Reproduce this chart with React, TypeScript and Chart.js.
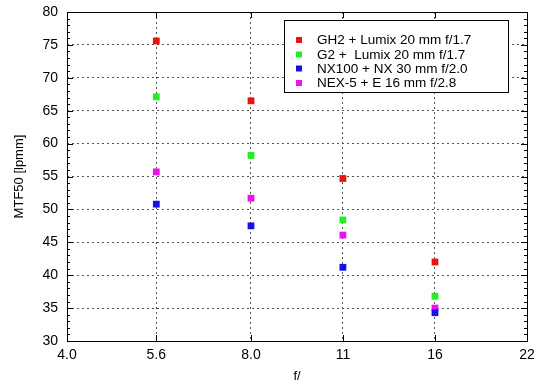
import React, { useEffect, useRef } from "react";
import { Chart, registerables } from "chart.js";

Chart.register(...registerables);

const fStops = [5.6, 8, 11.31, 16];
const tickValues = [4, 5.6, 8, 11.31, 16, 22.63];
const tickLabels = ["4.0", "5.6", "8.0", "11", "16", "22"];
const seriesNames = [
  "GH2 + Lumix 20 mm f/1.7",
  "G2 +  Lumix 20 mm f/1.7",
  "NX100 + NX 30 mm f/2.0",
  "NEX-5 + E 16 mm f/2.8",
];
const gh2 = [75.6, 66.5, 54.7, 42.0];
const g2 = [67.1, 58.2, 48.4, 36.8];
const nx100 = [50.8, 47.5, 41.2, 34.3];
const nex5 = [55.7, 51.7, 46.1, 35.0];
const colors = ["#ee1111", "#22ee22", "#1111ee", "#ee11ee"];

const FONT = "'Liberation Sans', Arial, sans-serif";

const framePlugin = {
  id: "frame",
  afterDraw(chart: any) {
    const { ctx, chartArea: a, scales } = chart;
    const ys = scales.y;
    const xs = scales.x;
    ctx.save();
    ctx.strokeStyle = "#000";
    ctx.lineWidth = 1;
    ctx.beginPath();
    for (let v = 30; v <= 80; v += 1) {
      const py = Math.round(ys.getPixelForValue(v)) + 0.5;
      const len = v % 5 === 0 ? 6 : 3;
      ctx.moveTo(a.left, py);
      ctx.lineTo(a.left + len, py);
      ctx.moveTo(a.right, py);
      ctx.lineTo(a.right - len, py);
    }
    for (const v of tickValues) {
      const px = Math.round(xs.getPixelForValue(v)) + 0.5;
      ctx.moveTo(px, a.bottom);
      ctx.lineTo(px, a.bottom - 6);
      ctx.moveTo(px, a.top);
      ctx.lineTo(px, a.top + 6);
    }
    ctx.stroke();
    ctx.strokeRect(Math.round(a.left) + 0.5, Math.round(a.top) + 0.5, Math.round(a.right - a.left), Math.round(a.bottom - a.top));

    const bx = 284.5, by = 20.5, bw = 224, bh = 72;
    ctx.fillStyle = "#fff";
    ctx.fillRect(bx, by, bw, bh);
    ctx.strokeRect(bx, by, bw, bh);
    ctx.font = `13.5px ${FONT}`;
    ctx.textBaseline = "middle";
    ctx.textAlign = "left";
    const rows = [40, 54.5, 68.5, 83];
    chart.data.datasets.forEach((ds: any, i: number) => {
      ctx.fillStyle = ds.backgroundColor;
      ctx.fillRect(296, rows[i] - 3, 6, 6);
      ctx.fillStyle = "#000";
      ctx.fillText(ds.label, 317, rows[i] + 0.5);
    });
    ctx.restore();
  },
};

export default function App() {
  const ref = useRef<HTMLCanvasElement>(null);
  useEffect(() => {
    if (!ref.current) return;
    const mk = (label: string, vals: number[], color: string) => ({
      label,
      data: vals.map((v, i) => ({ x: fStops[i], y: v })),
      backgroundColor: color,
      borderColor: color,
      pointStyle: "rect",
      pointRadius: 4.8,
      pointBorderWidth: 0,
      showLine: false,
    });
    const grid = {
      color: "#555",
      lineWidth: 1,
      drawTicks: false,
    };
    const chart = new Chart(ref.current, {
      type: "scatter",
      data: {
        datasets: [
          mk(seriesNames[0], gh2, colors[0]),
          mk(seriesNames[1], g2, colors[1]),
          mk(seriesNames[2], nx100, colors[2]),
          mk(seriesNames[3], nex5, colors[3]),
        ],
      },
      options: {
        animation: false,
        responsive: false,
        layout: { padding: { top: 12, right: 23, left: 12, bottom: 0 } },
        plugins: { legend: { display: false }, tooltip: { enabled: false } },
        scales: {
          x: {
            type: "logarithmic",
            min: 4,
            max: 22.63,
            afterBuildTicks: (s: any) => {
              s.ticks = tickValues.map((v) => ({ value: v }));
            },
            afterFit: (s: any) => {
              s.height = 48;
              s.paddingLeft = 0;
              s.paddingRight = 0;
            },
            ticks: {
              autoSkip: false,
              maxRotation: 0,
              color: "#000",
              padding: 6,
              font: { family: FONT, size: 14 },
              callback: (v: any) => {
                const i = tickValues.indexOf(Number(v));
                return i >= 0 ? tickLabels[i] : "";
              },
            },
            grid: grid as any,
            border: { display: false, dash: [2, 3] },
            title: {
              display: true,
              text: "f/",
              color: "#000",
              font: { family: FONT, size: 13 },
              padding: { top: 1, bottom: 5 },
            },
          },
          y: {
            min: 30,
            max: 80,
            afterFit: (s: any) => {
              s.width = 55;
              s.paddingTop = 0;
              s.paddingBottom = 0;
            },
            ticks: {
              stepSize: 5,
              color: "#000",
              padding: 9,
              font: { family: FONT, size: 14 },
            },
            grid: grid as any,
            border: { display: false, dash: [2, 3] },
            title: {
              display: true,
              text: "MTF50 [lpmm]",
              color: "#000",
              font: { family: FONT, size: 13 },
              padding: { top: 0, bottom: 4 },
            },
          },
        },
      },
      plugins: [framePlugin],
    } as any);
    return () => chart.destroy();
  }, []);
  return (
    <div style={{ position: "fixed", left: 0, top: 0, width: 550, height: 389, background: "#fff" }}>
      <canvas ref={ref} width={550} height={389} style={{ width: 550, height: 389 }} />
    </div>
  );
}
